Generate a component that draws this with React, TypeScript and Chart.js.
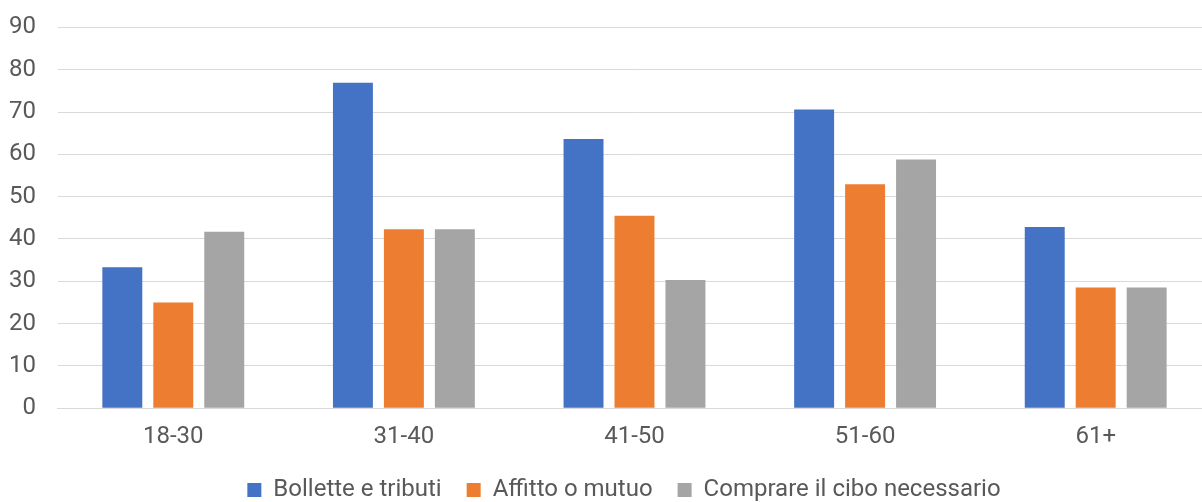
import React, { useEffect, useRef } from "react";
import { Chart, registerables } from "chart.js";

Chart.register(...registerables);

const categories = ["18-30", "31-40", "41-50", "51-60", "61+"];
const bollette = [33.3, 76.9, 63.6, 70.6, 42.8];
const affitto = [25.0, 42.3, 45.5, 52.9, 28.5];
const cibo = [41.7, 42.3, 30.3, 58.8, 28.5];
const seriesNames = ["Bollette e tributi", "Affitto o mutuo", "Comprare il cibo necessario"];
const seriesColors = ["#4472C4", "#ED7D31", "#A5A5A5"];
const yMin = 0;
const yMax = 90;
const yStep = 10;

const FONT = "Roboto, 'Liberation Sans', Arial, sans-serif";
const TEXT = "#595959";
const FS = 24;
const X_PAD = 14;

const legendShift = {
  id: "legendShift",
  afterLayout(chart: any) {
    const l = chart.legend;
    if (l) {
      l.left += 25;
      l.right += 25;
      l.top += 2;
      l.bottom += 2;
    }
  },
};

export default function App() {
  const ref = useRef<HTMLCanvasElement | null>(null);
  useEffect(() => {
    if (!ref.current) return;
    const values = [bollette, affitto, cibo];
    const chart = new Chart(ref.current, {
      type: "bar",
      data: {
        labels: categories,
        datasets: values.map((v, i) => ({
          label: seriesNames[i],
          data: v,
          backgroundColor: seriesColors[i],
          borderWidth: 0,
          categoryPercentage: 0.663,
          barPercentage: 0.784,
        })),
      },
      plugins: [legendShift],
      options: {
        responsive: false,
        animation: false,
        devicePixelRatio: 1,
        layout: { padding: { top: 0, left: 0, right: 0, bottom: 0 } },
        plugins: {
          tooltip: { enabled: false },
          legend: {
            position: "bottom",
            maxHeight: 51,
            labels: {
              boxWidth: 14,
              boxHeight: 14,
              padding: 25,
              color: TEXT,
              font: { family: FONT, size: FS },
            },
          },
        },
        scales: {
          x: {
            grid: { display: false, drawTicks: false },
            border: { display: true, color: "#d9d9d9", width: 1 },
            ticks: { color: TEXT, font: { family: FONT, size: FS }, padding: X_PAD, maxRotation: 0 },
            afterFit: (scale: any) => {
              scale.height -= X_PAD;
            },
          },
          y: {
            min: yMin,
            max: yMax,
            ticks: { stepSize: yStep, color: TEXT, font: { family: FONT, size: FS }, padding: 22 },
            grid: { color: "#d9d9d9", lineWidth: 1, drawTicks: false },
            border: { display: false },
          },
        },
      },
    });
    return () => chart.destroy();
  }, []);
  return (
    <div style={{ position: "fixed", left: 0, top: 0, width: 1202, height: 502, overflow: "hidden", background: "#fff" }}>
      <canvas ref={ref} width={1224} height={511} style={{ display: "block", marginLeft: -13, marginTop: -9 }} />
    </div>
  );
}
